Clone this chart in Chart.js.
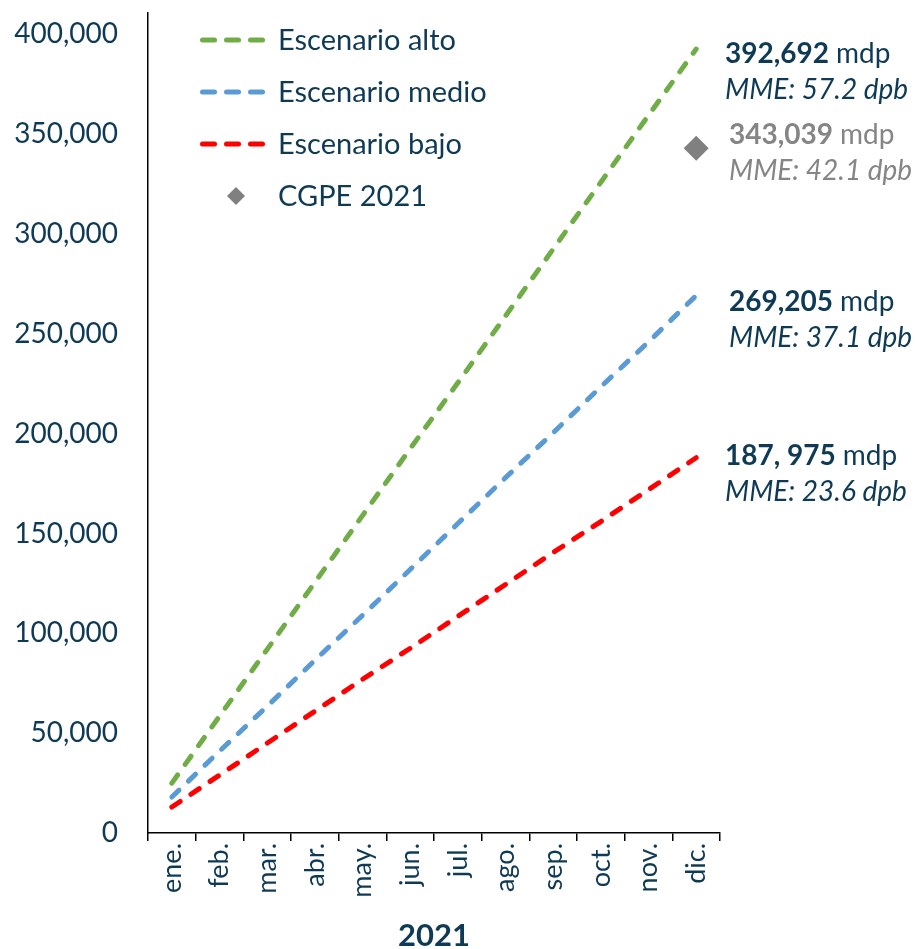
<!DOCTYPE html>
<html>
<head>
<meta charset="utf-8">
<script src="https://cdn.jsdelivr.net/npm/chart.js@4.4.1/dist/chart.umd.min.js"></script>
<style>
  html, body { margin: 0; padding: 0; background: #ffffff; }
  #wrap { width: 915px; height: 949px; }
</style>
</head>
<body>
<div id="wrap"><canvas id="c" width="915" height="949"></canvas></div>
<script>
// Months of 2021
const months = ['ene.', 'feb.', 'mar.', 'abr.', 'may.', 'jun.', 'jul.', 'ago.', 'sep.', 'oct.', 'nov.', 'dic.'];

// Accumulated values per scenario (millones de pesos)
const altoValues  = [25000, 58500, 92000, 125500, 159000, 192500, 225500, 259000, 292500, 326000, 359500, 392692];
const medioValues = [18000, 41000, 63500, 86500, 109000, 132000, 155000, 178000, 200500, 223500, 246000, 269205];
const bajoValues  = [13000, 29000, 45000, 61000, 77000, 92500, 108500, 124500, 140500, 156000, 172000, 187975];
const cgpeValues  = [null, null, null, null, null, null, null, null, null, null, null, 343039];

const seriesNames = ['Escenario alto', 'Escenario medio', 'Escenario bajo', 'CGPE 2021'];

// Year-end notes, in dataset order
const endAmounts = ['392,692', '269,205', '187, 975', '343,039'];
const endMme     = ['MME: 57.2 dpb', 'MME: 37.1 dpb', 'MME: 23.6 dpb', 'MME: 42.1 dpb'];
const endUnit    = 'mdp';
const axisYear   = '2021';

// Value axis tick marks
const yTickValues = [0, 50000, 100000, 150000, 200000, 250000, 300000, 350000, 400000];
const yMax = 411000;

const TEXT = '#0f3a55';
const GREY = '#858585';
const FONT = 'Lato, "Open Sans", sans-serif';

// Legend drawn inside the plot, top-left
const legendPlugin = {
  id: 'innerLegend',
  afterDraw(chart) {
    const ctx = chart.ctx;
    const x0 = 200, y0 = 40, step = 52;
    ctx.save();
    chart.data.datasets.forEach((ds, i) => {
      const y = y0 + i * step;
      if (ds.showLine === false) {
        const r = 9, cx = 236;
        ctx.fillStyle = ds.backgroundColor;
        ctx.beginPath();
        ctx.moveTo(cx, y - r); ctx.lineTo(cx + r, y); ctx.lineTo(cx, y + r); ctx.lineTo(cx - r, y);
        ctx.closePath(); ctx.fill();
      } else {
        ctx.strokeStyle = ds.borderColor;
        ctx.lineWidth = 5;
        ctx.lineCap = 'round';
        for (let k = 0; k < 3; k++) {
          const sx = x0 + 2.5 + k * 24;
          ctx.beginPath(); ctx.moveTo(sx, y); ctx.lineTo(sx + 12, y); ctx.stroke();
        }
      }
      ctx.fillStyle = TEXT;
      ctx.font = '29px ' + FONT;
      ctx.textBaseline = 'middle';
      ctx.textAlign = 'left';
      ctx.fillText(ds.label, 278, y + 1);
    });
    ctx.restore();
  }
};

// Year-end amount and MME notes beside the last point of each series
const endNotesPlugin = {
  id: 'endNotes',
  afterDraw(chart) {
    const ctx = chart.ctx;
    const ys = chart.scales.y;
    const xs = chart.scales.x;
    const lineOffsets = [5, 6, -2, -13];
    ctx.save();
    ctx.textBaseline = 'middle';
    ctx.textAlign = 'left';
    chart.data.datasets.forEach((ds, i) => {
      const last = ds.data[ds.data.length - 1];
      const py = ys.getPixelForValue(last) + lineOffsets[i];
      const px = xs.right + 5 + (i === 1 || i === 3 ? 4 : 0);
      const col = ds.showLine === false ? GREY : TEXT;
      ctx.fillStyle = col;
      ctx.font = 'bold 28px ' + FONT;
      ctx.fillText(endAmounts[i], px, py);
      const w = ctx.measureText(endAmounts[i]).width;
      ctx.font = '28px ' + FONT;
      ctx.fillText(endUnit, px + w + 7, py);
      ctx.font = 'italic 28px ' + FONT;
      ctx.fillText(endMme[i], px, py + 36);
    });
    ctx.restore();
  }
};

const lineStyle = (color) => ({
  borderColor: color,
  backgroundColor: color,
  borderWidth: 5,
  borderDash: [10, 13],
  borderCapStyle: 'round',
  pointRadius: 0,
  tension: 0,
  fill: false
});

new Chart(document.getElementById('c'), {
  type: 'line',
  data: {
    labels: months,
    datasets: [
      Object.assign({ label: seriesNames[0], data: altoValues }, lineStyle('#70ad47')),
      Object.assign({ label: seriesNames[1], data: medioValues }, lineStyle('#5b9bd5')),
      Object.assign({ label: seriesNames[2], data: bajoValues }, lineStyle('#ff0000')),
      {
        label: seriesNames[3],
        data: cgpeValues,
        showLine: false,
        pointStyle: 'rectRot',
        pointRadius: 12.5,
        pointBorderWidth: 0,
        backgroundColor: '#808080',
        borderColor: '#808080'
      }
    ]
  },
  options: {
    responsive: false,
    animation: false,
    devicePixelRatio: 1,
    layout: { padding: { left: 0, right: 195, top: 10, bottom: 0 } },
    plugins: {
      legend: { display: false },
      tooltip: { enabled: false }
    },
    scales: {
      x: {
        offset: true,
        grid: {
          display: true,
          offset: true,
          drawOnChartArea: false,
          drawTicks: true,
          tickLength: 8,
          color: '#000000',
          lineWidth: 1.5
        },
        border: { display: true, color: '#000000', width: 1.5 },
        ticks: {
          color: TEXT,
          font: { family: FONT, size: 27 },
          minRotation: 90,
          maxRotation: 90,
          padding: 2,
          autoSkip: false
        },
        title: {
          display: true,
          text: axisYear,
          color: TEXT,
          font: { family: FONT, size: 31, weight: 'bold' },
          padding: { top: 0, bottom: -6 }
        },
        afterFit(s) {
          s.height = 116;
          s.paddingLeft = 0; s.paddingRight = 0;
        }
      },
      y: {
        min: 0,
        max: yMax,
        grid: { display: false, drawTicks: false },
        border: { display: true, color: '#000000', width: 1.5 },
        ticks: {
          color: TEXT,
          padding: 30,
          font: { family: FONT, size: 28 },
          callback: (v) => Number(v).toLocaleString('en-US')
        },
        afterBuildTicks(s) {
          s.ticks = yTickValues.map((v) => ({ value: v }));
        },
        afterFit(s) {
          s.width = 148;
          s.paddingTop = 0; s.paddingBottom = 0;
        }
      }
    }
  },
  plugins: [legendPlugin, endNotesPlugin]
});
</script>
</body>
</html>
